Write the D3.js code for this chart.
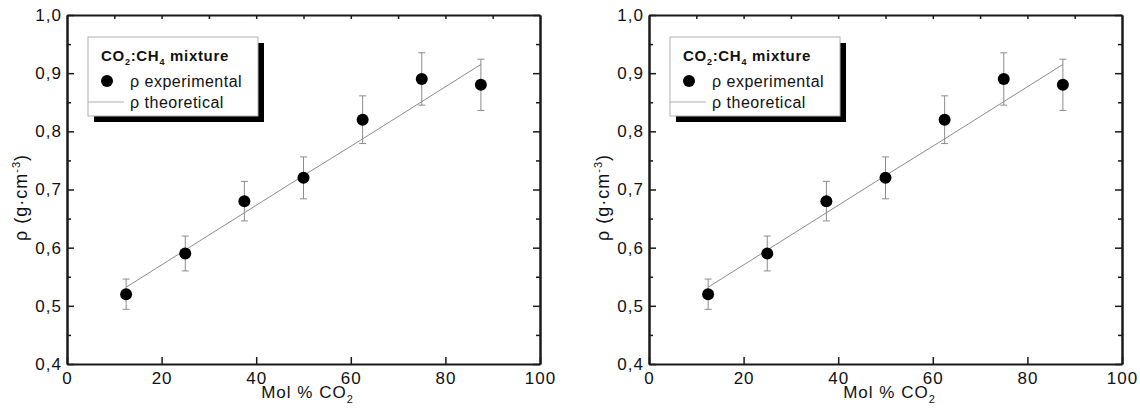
<!DOCTYPE html>
<html>
<head>
<meta charset="utf-8">
<script src="https://cdn.jsdelivr.net/npm/d3@7"></script>
<style>
  body { margin: 0; background: #fff; }
  text { font-family: Arial, "Liberation Sans", sans-serif; }
</style>
</head>
<body>
<div id="chart"></div>
<script>
// data
var molCO2 = [12.5, 25, 37.5, 50, 62.5, 75, 87.5];
var rhoExp = [0.52, 0.59, 0.68, 0.72, 0.82, 0.89, 0.88];
var rhoErr = [0.026, 0.030, 0.034, 0.036, 0.041, 0.045, 0.044];
var rhoTheo = [0.532, 0.596, 0.660, 0.724, 0.787, 0.851, 0.915];
var xTicks = [0, 20, 40, 60, 80, 100];
var yTicks = [0.4, 0.5, 0.6, 0.7, 0.8, 0.9, 1.0];

var W = 1140, H = 409;
var svg = d3.select("#chart")
  .append("svg")
    .attr("width", W)
    .attr("height", H);

var fmt = function (d) { return d3.format(".1f")(d).replace(".", ","); };

function drawPanel(left) {
  var width = 473, top = 15, height = 349;
  var g = svg.append("g")
    .attr("transform", "translate(" + left + "," + top + ")");

  var x = d3.scaleLinear().domain([0, 100]).range([0, width]);
  var y = d3.scaleLinear().domain([0.4, 1.0]).range([height, 0]);

  // theoretical line
  g.append("path")
    .datum(molCO2)
    .attr("fill", "none")
    .attr("stroke", "#8c8c8c")
    .attr("stroke-width", 1)
    .attr("d", d3.line()
      .x(function (d) { return x(d); })
      .y(function (d, i) { return y(rhoTheo[i]); }));

  // error bars
  var eb = g.selectAll(".err")
    .data(molCO2)
    .enter()
    .append("g")
      .attr("stroke", "#8c8c8c")
      .attr("stroke-width", 1);
  eb.append("line")
    .attr("x1", function (d) { return x(d); })
    .attr("x2", function (d) { return x(d); })
    .attr("y1", function (d, i) { return y(rhoExp[i] - rhoErr[i]); })
    .attr("y2", function (d, i) { return y(rhoExp[i] + rhoErr[i]); });
  [-1, 1].forEach(function (s) {
    eb.append("line")
      .attr("x1", function (d) { return x(d) - 3.5; })
      .attr("x2", function (d) { return x(d) + 3.5; })
      .attr("y1", function (d, i) { return y(rhoExp[i] + s * rhoErr[i]); })
      .attr("y2", function (d, i) { return y(rhoExp[i] + s * rhoErr[i]); });
  });

  // points
  g.selectAll(".pt")
    .data(molCO2)
    .enter()
    .append("circle")
      .attr("cx", function (d) { return x(d); })
      .attr("cy", function (d, i) { return y(rhoExp[i]); })
      .attr("r", 6)
      .attr("fill", "black");

  // axes: ticks inward, mirrored on all sides
  g.append("g")
    .attr("transform", "translate(0," + height + ")")
    .call(d3.axisBottom(x).tickValues(xTicks).tickSizeInner(-7).tickSizeOuter(0).tickPadding(8));
  g.append("g")
    .call(d3.axisTop(x).tickValues(d3.range(10, 100, 10)).tickSizeInner(-4).tickSizeOuter(0).tickFormat(""));
  g.append("g")
    .call(d3.axisLeft(y).tickValues(yTicks).tickFormat(fmt).tickSizeInner(-7).tickSizeOuter(0).tickPadding(5));
  g.append("g")
    .call(d3.axisLeft(y).tickValues(d3.range(0.45, 1.0, 0.1)).tickSizeInner(-4).tickSizeOuter(0).tickFormat(""));
  g.append("g")
    .attr("transform", "translate(" + width + ",0)")
    .call(d3.axisRight(y).tickValues(yTicks).tickSizeInner(-7).tickSizeOuter(0).tickFormat(""));
  g.append("g")
    .attr("transform", "translate(" + width + ",0)")
    .call(d3.axisRight(y).tickValues(d3.range(0.45, 1.0, 0.1)).tickSizeInner(-4).tickSizeOuter(0).tickFormat(""));

  g.selectAll(".domain").attr("stroke", "#1a1a1a").attr("stroke-width", 2);
  g.selectAll(".tick line").attr("stroke", "#1a1a1a").attr("stroke-width", 1.5);
  g.selectAll(".tick text")
    .attr("font-family", "Arial, 'Liberation Sans', sans-serif")
    .attr("font-size", 17)
    .attr("letter-spacing", 1)
    .attr("fill", "#111");

  // x axis label
  var xl = g.append("text")
    .attr("x", width / 2 + 4)
    .attr("y", height + 34)
    .attr("text-anchor", "middle")
    .attr("font-size", 17)
    .attr("letter-spacing", 1)
    .attr("fill", "#111");
  xl.append("tspan").text("Mol % CO");
  xl.append("tspan").attr("dy", 5).attr("font-size", 11).text("2");

  // y axis label
  var yl = g.append("text")
    .attr("transform", "translate(" + (-40) + "," + (height / 2 + 8) + ") rotate(-90)")
    .attr("text-anchor", "middle")
    .attr("font-size", 18)
    .attr("letter-spacing", 1)
    .attr("fill", "#111");
  yl.append("tspan").text("\u03c1 (g\u00b7cm");
  yl.append("tspan").attr("dy", -7).attr("font-size", 11).text("-3");
  yl.append("tspan").attr("dy", 7).text(")");

  // legend with drop shadow
  var lg = g.append("g").attr("transform", "translate(21,22)");
  lg.append("rect")
    .attr("x", 6).attr("y", 6)
    .attr("width", 170).attr("height", 79)
    .attr("fill", "black");
  lg.append("rect")
    .attr("width", 170).attr("height", 79)
    .attr("fill", "white")
    .attr("stroke", "#b0b0b0")
    .attr("stroke-width", 1);

  var title = lg.append("text")
    .attr("x", 13).attr("y", 24)
    .attr("font-size", 15)
    .attr("font-weight", "bold")
    .attr("letter-spacing", 0.7)
    .attr("fill", "#111");
  title.append("tspan").text("CO");
  title.append("tspan").attr("dy", 4).attr("font-size", 9).text("2");
  title.append("tspan").attr("dy", -4).text(":CH");
  title.append("tspan").attr("dy", 4).attr("font-size", 9).text("4");
  title.append("tspan").attr("dy", -4).text(" mixture");

  lg.append("circle")
    .attr("cx", 19).attr("cy", 44).attr("r", 6)
    .attr("fill", "black");
  lg.append("text")
    .attr("x", 42).attr("y", 50)
    .attr("font-size", 16)
    .attr("letter-spacing", 0.5)
    .attr("fill", "#111")
    .text("\u03c1 experimental");
  lg.append("line")
    .attr("x1", 0).attr("x2", 36)
    .attr("y1", 65).attr("y2", 65)
    .attr("stroke", "#b0b0b0")
    .attr("stroke-width", 1);
  lg.append("text")
    .attr("x", 42).attr("y", 71)
    .attr("font-size", 16)
    .attr("letter-spacing", 0.5)
    .attr("fill", "#111")
    .text("\u03c1 theoretical");
}

drawPanel(67);
drawPanel(649);
</script>
</body>
</html>
